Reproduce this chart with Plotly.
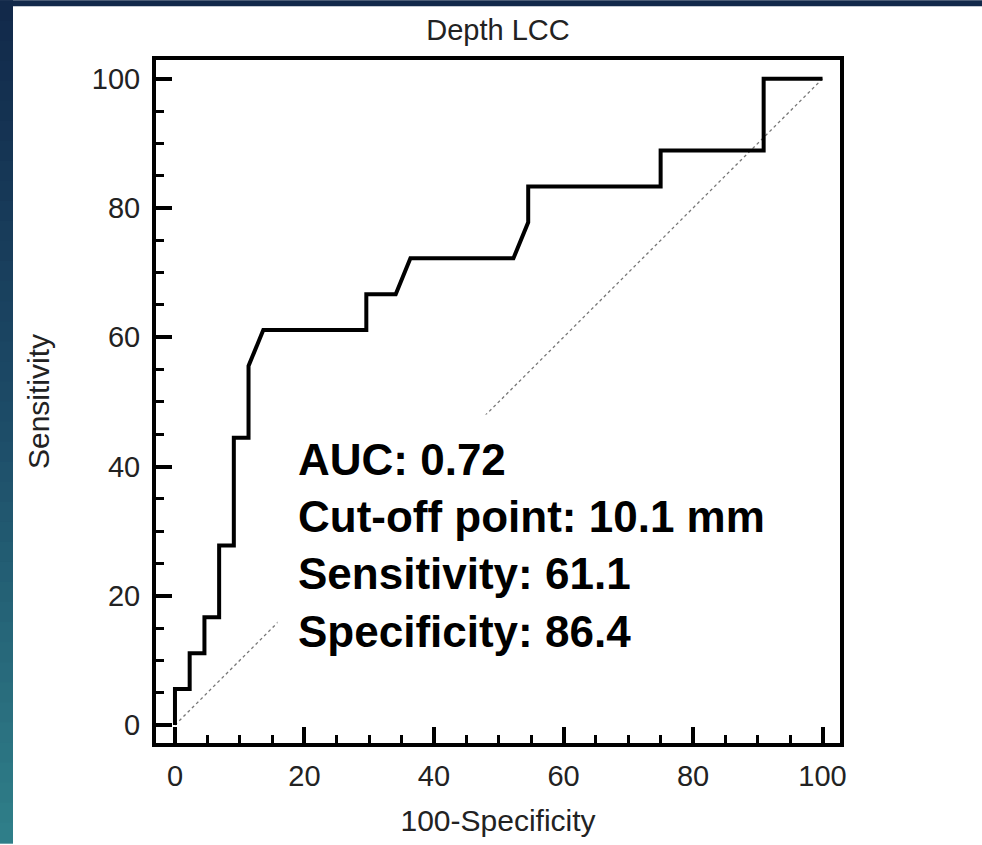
import plotly.graph_objects as go

# ---- data ----
fpr = [0, 0, 2.27, 2.27, 4.55, 4.55, 6.82, 6.82, 9.09, 9.09, 11.36, 11.36, 13.64,
       29.55, 29.55, 34.09, 36.36, 52.27, 54.55, 54.55, 75.0, 75.0, 90.91, 90.91, 100]
tpr = [0, 5.56, 5.56, 11.11, 11.11, 16.67, 16.67, 27.78, 27.78, 44.44, 44.44, 55.56, 61.11,
       61.11, 66.67, 66.67, 72.22, 72.22, 77.78, 83.33, 83.33, 88.89, 88.89, 100, 100]
diag_x = [0, 100]
diag_y = [0, 100]
major_ticks = [0, 20, 40, 60, 80, 100]
title_text = "Depth LCC"
x_title = "100-Specificity"
y_title = "Sensitivity"
stats_lines = ["AUC: 0.72", "Cut-off point: 10.1 mm", "Sensitivity: 61.1", "Specificity: 86.4"]

W, H = 982, 845
ML, MR, MT, MB = 156, 142, 60, 100
FONT = "Arial, 'Liberation Sans', sans-serif"

fig = go.Figure()
fig.add_trace(go.Scatter(x=diag_x, y=diag_y, mode="lines",
                         line=dict(color="#777777", width=1.3, dash="dot"),
                         hoverinfo="skip", showlegend=False))
fig.add_trace(go.Scatter(x=fpr, y=tpr, mode="lines",
                         line=dict(color="black", width=4),
                         showlegend=False))

def axis_common(standoff):
    return dict(
        showline=True, linewidth=4, linecolor="black", mirror=True,
        showgrid=False, zeroline=False,
        ticks="inside", ticklen=16, tickwidth=4, tickcolor="black",
        tickvals=major_ticks, ticklabelstandoff=standoff,
        minor=dict(dtick=5, tick0=0, ticks="inside", ticklen=8, tickwidth=3, tickcolor="black", showgrid=False),
        tickfont=dict(family=FONT, size=29, color="#222222"),
    )

fig.update_xaxes(range=[-2.93, 102.7],
                 title=dict(text=x_title, font=dict(family=FONT, size=30, color="#222222"), standoff=20),
                 **axis_common(4))
fig.update_yaxes(range=[-2.78, 102.9],
                 title=dict(text=y_title, font=dict(family=FONT, size=30, color="#222222"), standoff=34),
                 **axis_common(6))

fig.add_annotation(
    x=15.8, y=48.1, xref="x", yref="y", xanchor="left", yanchor="top",
    text="<br>".join("<b>%s</b>" % s for s in stats_lines),
    align="left", showarrow=False, bgcolor="white", borderpad=20,
    font=dict(family=FONT, size=44, color="black"),
)

# background frame (navy top band and navy->teal left strip)
pw = W - ML - MR
ph = H - MT - MB
def px_x(p):
    return (p - ML) / pw
def px_y(p):
    return (H - MB - p) / ph

shapes = []
shapes.append(dict(type="rect", xref="paper", yref="paper", x0=px_x(0), x1=px_x(W), y0=px_y(0), y1=px_y(6),
                   fillcolor="#12294a", line=dict(width=0), layer="above"))
top_c = (0x12, 0x29, 0x4a)
mid_c = (0x1d, 0x4c, 0x68)
bot_c = (0x30, 0x80, 0x8a)
n = 42
for i in range(n):
    t = (i + 0.5) / n
    if t < 0.5:
        u = t / 0.5
        c = tuple(int(top_c[k] + (mid_c[k] - top_c[k]) * u) for k in range(3))
    else:
        u = (t - 0.5) / 0.5
        c = tuple(int(mid_c[k] + (bot_c[k] - mid_c[k]) * u) for k in range(3))
    y0 = H * i / n
    y1 = H * (i + 1) / n + 1
    shapes.append(dict(type="rect", xref="paper", yref="paper", x0=px_x(0), x1=px_x(13),
                       y0=px_y(y0), y1=px_y(y1), fillcolor="rgb(%d,%d,%d)" % c,
                       line=dict(width=0), layer="above"))

fig.update_layout(
    width=W, height=H,
    margin=dict(l=ML, r=MR, t=MT, b=MB),
    paper_bgcolor="white", plot_bgcolor="white",
    title=dict(text=title_text, x=0.5, xref="paper", y=1 - 30 / H, yref="container",
               xanchor="center", yanchor="middle",
               font=dict(family=FONT, size=29, color="#222222")),
    shapes=shapes,
    showlegend=False,
)

fig.write_html("out.html")
